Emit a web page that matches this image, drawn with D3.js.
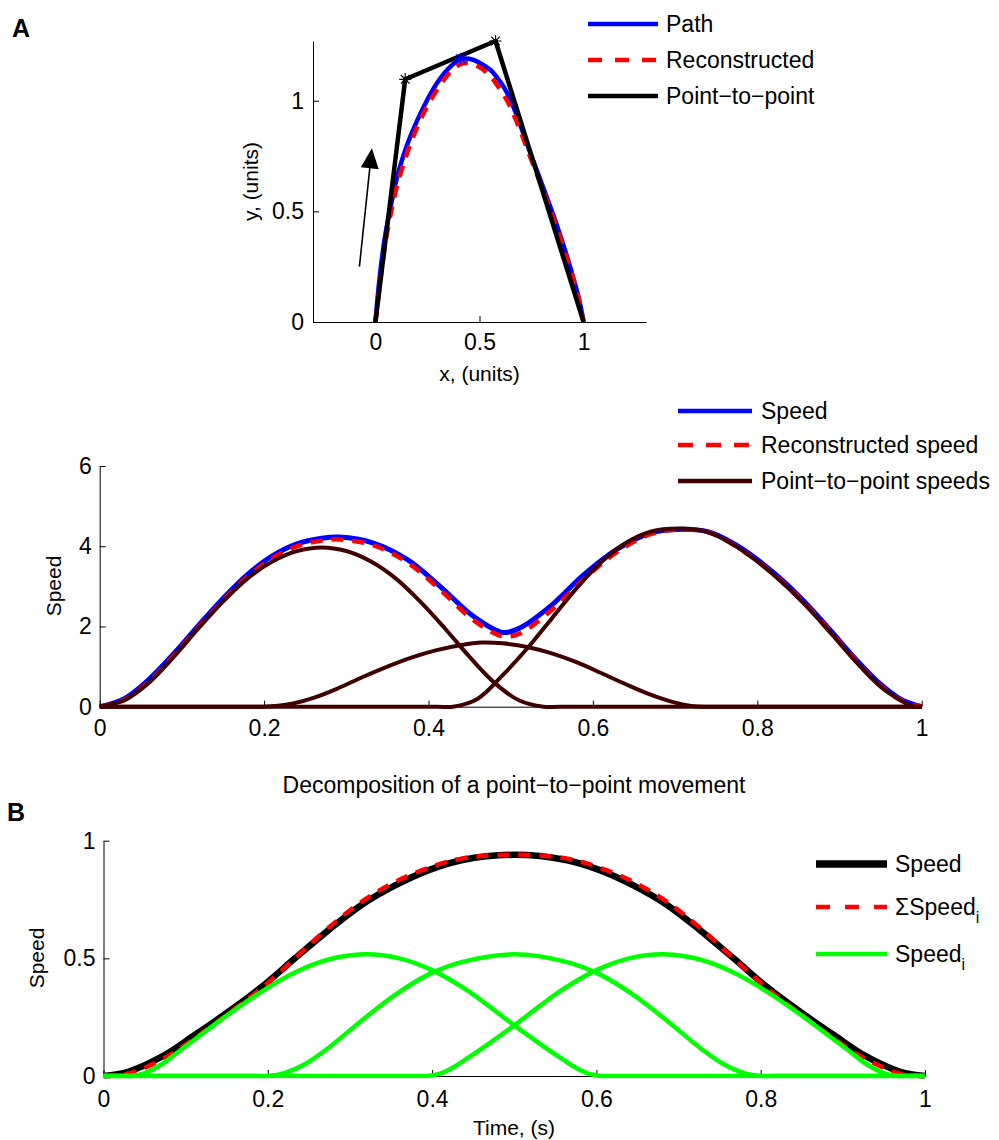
<!DOCTYPE html>
<html lang="en">
<head>
<meta charset="utf-8">
<title>Point-to-point decomposition</title>
<script src="https://d3js.org/d3.v7.min.js"></script>
<style>
  body { margin: 0; background: #fff; }
  svg { display: block; font-family: "Liberation Sans", Arial, Helvetica, sans-serif; }
</style>
</head>
<body>
<svg id="fig" width="999" height="1140"></svg>
<script>
// ---- data: panel A top (path in the plane) ----
var pathXY = [[0,0],[0.02,0.2],[0.045,0.38],[0.075,0.53],[0.1,0.64],[0.127,0.73],[0.167,0.837],
  [0.232,0.973],[0.296,1.08],[0.36,1.154],[0.408,1.187],[0.45,1.19],[0.5,1.172],[0.553,1.139],
  [0.6,1.085],[0.633,1.035],[0.67,0.955],[0.702,0.875],[0.74,0.775],[0.779,0.677],[0.815,0.585],
  [0.853,0.488],[0.89,0.385],[0.924,0.285],[0.955,0.185],[0.979,0.1],[1,0]];
var reconXY = [[0,0],[0.025,0.2],[0.05,0.37],[0.08,0.52],[0.105,0.62],[0.13,0.7],[0.17,0.81],
  [0.235,0.95],[0.3,1.055],[0.36,1.13],[0.41,1.165],[0.45,1.17],[0.5,1.152],[0.553,1.11],
  [0.6,1.05],[0.633,1.0],[0.67,0.925],[0.702,0.85],[0.74,0.755],[0.779,0.66],[0.815,0.57],
  [0.853,0.475],[0.89,0.375],[0.924,0.275],[0.955,0.18],[0.979,0.095],[1,0]];
var p2pXY = [[0,0],[0.143,1.097],[0.577,1.27],[1,0]];
var p2pStars = [[0.143,1.097],[0.577,1.27]];
var pathStars = [[0.41,1.19]];
var arrowFrom = [-0.077,0.25], arrowTo = [-0.017,0.785];
var xTicksA = [0,0.5,1], yTicksA = [0,0.5,1];
var legendA = ["Path","Reconstructed","Point\u2212to\u2212point"];

// ---- data: panel A bottom (speed profiles) ----
var speed = [[0,0],[0.03,0.2],[0.06,0.68],[0.09,1.32],[0.12,2.02],[0.15,2.7],[0.18,3.3],[0.21,3.76],
  [0.24,4.06],[0.27,4.2],[0.292,4.23],[0.333,4.08],[0.374,3.67],[0.414,3.0],[0.455,2.25],[0.491,1.85],
  [0.511,1.96],[0.548,2.5],[0.589,3.29],[0.629,3.92],[0.67,4.33],[0.702,4.42],[0.74,4.36],
  [0.77,4.08],[0.8,3.67],[0.83,3.16],[0.86,2.56],[0.89,1.88],[0.92,1.18],[0.95,0.56],[0.975,0.18],[1,0]];
var speedRecon = [[0,0],[0.03,0.17],[0.06,0.63],[0.09,1.27],[0.12,1.97],[0.15,2.64],[0.18,3.24],
  [0.21,3.7],[0.24,4.0],[0.27,4.14],[0.292,4.17],[0.333,4.02],[0.374,3.6],[0.414,2.92],[0.455,2.15],
  [0.491,1.75],[0.511,1.82],[0.548,2.38],[0.589,3.18],[0.629,3.85],[0.67,4.3],[0.702,4.42],[0.74,4.35],
  [0.77,4.05],[0.8,3.63],[0.83,3.12],[0.86,2.52],[0.89,1.84],[0.92,1.14],[0.95,0.52],[0.975,0.16],[1,0]];
var p2pSpeed1 = [[0,0],[0.03,0.16],[0.06,0.6],[0.09,1.24],[0.12,1.95],[0.15,2.62],[0.18,3.2],
  [0.21,3.62],[0.24,3.88],[0.27,3.97],[0.3,3.88],[0.33,3.62],[0.36,3.2],[0.39,2.62],[0.42,1.95],
  [0.45,1.24],[0.48,0.6],[0.51,0.16],[0.54,0],[0.56,0],[1,0]];
var p2pSpeed2 = [[0,0],[0.18,0],[0.2,0],[0.23,0.06],[0.26,0.22],[0.29,0.46],[0.32,0.74],[0.35,1.0],
  [0.38,1.23],[0.41,1.41],[0.44,1.54],[0.465,1.6],[0.49,1.58],[0.52,1.49],[0.55,1.33],[0.58,1.11],
  [0.61,0.84],[0.64,0.56],[0.67,0.3],[0.7,0.1],[0.72,0.02],[0.74,0],[0.76,0],[1,0]];
var p2pSpeed3 = [[0,0],[0.41,0],[0.43,0],[0.46,0.2],[0.49,0.78],[0.52,1.45],[0.55,2.2],[0.58,2.95],
  [0.61,3.6],[0.64,4.08],[0.67,4.36],[0.705,4.44],[0.74,4.35],[0.77,4.05],[0.8,3.62],[0.83,3.1],
  [0.86,2.5],[0.89,1.82],[0.92,1.12],[0.95,0.5],[0.975,0.15],[0.99,0],[1,0]];
var xTicksS = [0,0.2,0.4,0.6,0.8,1], yTicksS = [0,2,4,6];
var legendS = ["Speed","Reconstructed speed","Point\u2212to\u2212point speeds"];

// ---- data: panel B (decomposition) ----
var speedB = [[0,0],[0.03,0.018],[0.071,0.082],[0.111,0.174],[0.152,0.273],[0.193,0.38],[0.233,0.5],
  [0.274,0.62],[0.314,0.727],[0.355,0.81],[0.396,0.875],[0.437,0.918],[0.5,0.94],[0.563,0.918],
  [0.604,0.875],[0.645,0.81],[0.686,0.727],[0.726,0.62],[0.767,0.5],[0.807,0.38],[0.848,0.273],
  [0.889,0.174],[0.929,0.082],[0.97,0.018],[1,0]];
var sumB = [[0,0],[0.03,0.01],[0.071,0.07],[0.111,0.16],[0.152,0.265],[0.193,0.375],[0.233,0.5],
  [0.274,0.63],[0.314,0.74],[0.355,0.825],[0.396,0.885],[0.437,0.925],[0.5,0.94],[0.563,0.925],
  [0.604,0.885],[0.645,0.825],[0.686,0.74],[0.726,0.63],[0.767,0.5],[0.807,0.375],[0.848,0.265],
  [0.889,0.16],[0.929,0.07],[0.97,0.01],[1,0]];
var subB1 = [[0,0],[0.02,0],[0.035,0],[0.05,0.012],[0.071,0.05],[0.09,0.1],[0.111,0.155],[0.152,0.262],
  [0.193,0.36],[0.233,0.44],[0.274,0.495],[0.318,0.517],[0.36,0.5],[0.4,0.45],[0.44,0.37],[0.47,0.295],
  [0.5,0.215],[0.53,0.14],[0.555,0.08],[0.575,0.035],[0.59,0.01],[0.605,0],[0.62,0],[1,0]];
var subB2 = [[0,0],[0.18,0],[0.2,0],[0.22,0.012],[0.245,0.05],[0.274,0.12],[0.314,0.235],[0.355,0.345],
  [0.396,0.432],[0.437,0.485],[0.5,0.517],[0.563,0.485],[0.604,0.432],[0.645,0.345],[0.686,0.235],
  [0.726,0.12],[0.755,0.05],[0.78,0.012],[0.8,0],[0.82,0],[1,0]];
var subB3 = [[0,0],[0.38,0],[0.395,0],[0.41,0.01],[0.425,0.035],[0.445,0.08],[0.47,0.14],[0.5,0.215],
  [0.53,0.295],[0.56,0.37],[0.6,0.45],[0.64,0.5],[0.682,0.517],[0.726,0.495],[0.767,0.44],[0.807,0.36],
  [0.848,0.262],[0.889,0.155],[0.91,0.1],[0.929,0.05],[0.95,0.012],[0.965,0],[0.98,0],[1,0]];
var xTicksB = [0,0.2,0.4,0.6,0.8,1], yTicksB = [0,0.5,1];

var svg = d3.select("#fig");
var FS = 23;
var smooth = d3.curveCatmullRom.alpha(0.5);
var clipN = 0;

function axes(x, y, xTicks, yTicks, padX, padY) {
  var ax = svg.append("g").attr("transform", "translate(0," + y.range()[0] + ")")
    .call(d3.axisBottom(x).tickValues(xTicks).tickFormat(String).tickSize(-6).tickSizeOuter(0).tickPadding(padX));
  var ay = svg.append("g").attr("transform", "translate(" + x.range()[0] + ",0)")
    .call(d3.axisLeft(y).tickValues(yTicks).tickFormat(String).tickSize(-6).tickSizeOuter(0).tickPadding(padY));
  [ax, ay].forEach(function(a) {
    a.attr("font-size", null).attr("font-family", null);
    a.selectAll("text").style("font-size", FS + "px").attr("fill", "#000");
    a.selectAll("line").attr("stroke", "#000");
    a.select(".domain").attr("stroke", "#000");
  });
}

// plot layer clipped a little below the zero line, so no spline dip shows under the axis
function layer(x, y) {
  var id = "clip" + (clipN++);
  svg.append("clipPath").attr("id", id).append("rect")
    .attr("x", x.range()[0] - 10).attr("y", y.range()[1] - 10)
    .attr("width", x.range()[1] - x.range()[0] + 20).attr("height", y.range()[0] - y.range()[1] + 12.5);
  return svg.append("g").attr("clip-path", "url(#" + id + ")");
}

function curve(g, x, y, data, color, width, dash, kind) {
  var line = d3.line().x(function(d) { return x(d[0]); }).y(function(d) { return y(d[1]); })
    .curve(kind || smooth);
  g.append("path").datum(data).attr("d", line).attr("fill", "none")
    .attr("stroke", color).attr("stroke-width", width)
    .attr("stroke-dasharray", dash || null).attr("stroke-linejoin", "round");
}

function legend(items, x0, x1, xt, ys) {
  items.forEach(function(it, i) {
    svg.append("line").attr("x1", x0).attr("x2", x1).attr("y1", ys[i]).attr("y2", ys[i])
      .attr("stroke", it.color).attr("stroke-width", it.width).attr("stroke-dasharray", it.dash || null);
    var t = svg.append("text").attr("x", xt).attr("y", ys[i] + 8).style("font-size", FS + "px").text(it.label);
    if (it.sub) t.append("tspan").attr("dy", 8).style("font-size", "16px").text(it.sub);
  });
}

function star(x, y, pts, color) {
  var r = 6, k = r * 0.72;
  pts.forEach(function(p) {
    var cx = x(p[0]), cy = y(p[1]), pth = d3.path();
    pth.moveTo(cx - r, cy); pth.lineTo(cx + r, cy);
    pth.moveTo(cx, cy - r); pth.lineTo(cx, cy + r);
    pth.moveTo(cx - k, cy - k); pth.lineTo(cx + k, cy + k);
    pth.moveTo(cx - k, cy + k); pth.lineTo(cx + k, cy - k);
    svg.append("path").attr("d", pth.toString()).attr("stroke", color).attr("stroke-width", 1.2);
  });
}

// ================= panel A, top =================
var xA = d3.scaleLinear().domain([-0.3, 1.3]).range([313, 646]);
var yA = d3.scaleLinear().domain([0, 1.27]).range([322, 41]);
axes(xA, yA, xTicksA, yTicksA, 12, 9);
var gA = svg.append("g");
curve(gA, xA, yA, pathXY, "#0000ff", 4.5);
curve(gA, xA, yA, reconXY, "#ff0000", 4.5, "12,9");
star(xA, yA, pathStars, "#0000ff");
curve(gA, xA, yA, p2pXY, "#000", 4.5, null, d3.curveLinear);
star(xA, yA, p2pStars, "#000");

// arrow showing the direction of movement
(function() {
  var x1 = xA(arrowFrom[0]), y1 = yA(arrowFrom[1]), x2 = xA(arrowTo[0]), y2 = yA(arrowTo[1]);
  var dx = x2 - x1, dy = y2 - y1, L = Math.sqrt(dx * dx + dy * dy), ux = dx / L, uy = dy / L;
  var hl = 20, hw = 9, bx = x2 - ux * hl, by = y2 - uy * hl;
  svg.append("line").attr("x1", x1).attr("y1", y1).attr("x2", bx).attr("y2", by)
    .attr("stroke", "#000").attr("stroke-width", 1.6);
  svg.append("path").attr("d", "M" + x2 + "," + y2 + "L" + (bx - uy * hw) + "," + (by + ux * hw) +
    "L" + (bx + uy * hw) + "," + (by - ux * hw) + "Z").attr("fill", "#000");
})();

svg.append("text").attr("x", 479.5).attr("y", 381).attr("text-anchor", "middle")
  .style("font-size", "21px").text("x, (units)");
svg.append("text").attr("transform", "translate(258,181.5) rotate(-90)").attr("text-anchor", "middle")
  .style("font-size", "21px").text("y, (units)");
legend([
  { color: "#0000ff", width: 4.5, label: legendA[0] },
  { color: "#ff0000", width: 4.5, dash: "14,13", label: legendA[1] },
  { color: "#000", width: 4.5, label: legendA[2] }
], 588, 658, 666, [24, 60, 96]);

// ================= panel A, bottom =================
var xS = d3.scaleLinear().domain([0, 1]).range([99.7, 921.7]);
var yS = d3.scaleLinear().domain([0, 6]).range([706.7, 466]);
axes(xS, yS, xTicksS, yTicksS, 13, 8);
var gS = layer(xS, yS);
curve(gS, xS, yS, speed, "#0000ff", 5);
curve(gS, xS, yS, speedRecon, "#ff0000", 4.5, "12,9");
[p2pSpeed1, p2pSpeed2, p2pSpeed3].forEach(function(s) { curve(gS, xS, yS, s, "#400000", 4); });
svg.append("text").attr("transform", "translate(61,586) rotate(-90)").attr("text-anchor", "middle")
  .style("font-size", "21px").text("Speed");
legend([
  { color: "#0000ff", width: 4.5, label: legendS[0] },
  { color: "#ff0000", width: 4.5, dash: "15,13", label: legendS[1] },
  { color: "#400000", width: 4.5, label: legendS[2] }
], 678, 752, 761, [411, 445, 481]);

// ================= panel B =================
var xB = d3.scaleLinear().domain([0, 1]).range([103.5, 925]);
var yB = d3.scaleLinear().domain([0, 1]).range([1076, 840.7]);
axes(xB, yB, xTicksB, yTicksB, 15, 8);
var gB = layer(xB, yB);
curve(gB, xB, yB, speedB, "#000", 6.5);
curve(gB, xB, yB, sumB, "#ff0000", 4.5, "12,9");
[subB1, subB2, subB3].forEach(function(s) { curve(gB, xB, yB, s, "#00ff00", 4.5); });
svg.append("text").attr("x", 514).attr("y", 793).attr("text-anchor", "middle")
  .style("font-size", FS + "px").text("Decomposition of a point\u2212to\u2212point movement");
svg.append("text").attr("x", 514).attr("y", 1135).attr("text-anchor", "middle")
  .style("font-size", "21px").text("Time, (s)");
svg.append("text").attr("transform", "translate(44,958) rotate(-90)").attr("text-anchor", "middle")
  .style("font-size", "21px").text("Speed");
legend([
  { color: "#000", width: 7.5, label: "Speed" },
  { color: "#ff0000", width: 4.5, dash: "14,15", label: "\u03a3Speed", sub: "i" },
  { color: "#00ff00", width: 4.5, label: "Speed", sub: "i" }
], 816, 887, 895, [864, 907, 954]);

// panel letters
svg.append("text").attr("x", 12).attr("y", 37).style("font-size", "25px").style("font-weight", "bold").text("A");
svg.append("text").attr("x", 7).attr("y", 821).style("font-size", "25px").style("font-weight", "bold").text("B");
</script>
</body>
</html>
